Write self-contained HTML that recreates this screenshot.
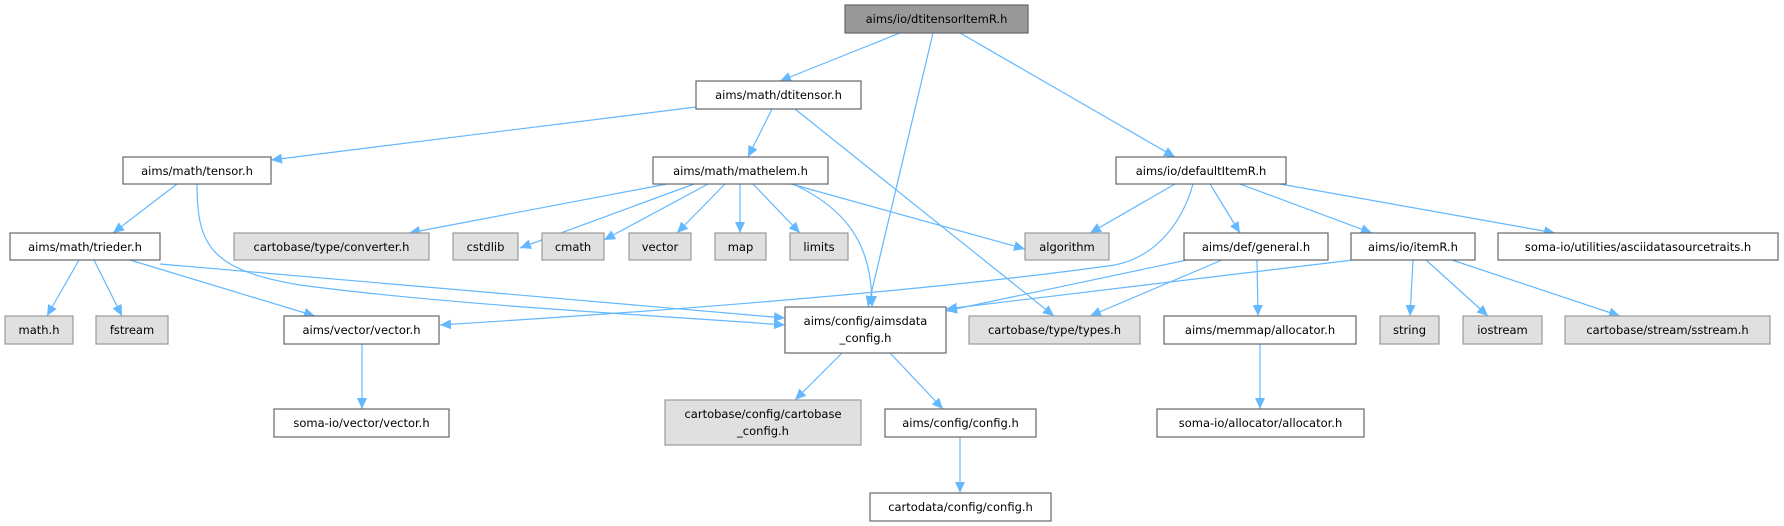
<!DOCTYPE html>
<html><head><meta charset="utf-8"><style>
html,body{margin:0;padding:0;background:#fff;}
svg{display:block;}
text{font-family:"DejaVu Sans","Liberation Sans",sans-serif;font-size:11.5px;fill:#000;}
.n{fill:#fff;stroke:#666;stroke-width:1.2;}
.g{fill:#e0e0e0;stroke:#999;stroke-width:1.2;}
.r{fill:#999;stroke:#666;stroke-width:1.2;}
.e{fill:none;stroke:#63b8ff;stroke-width:1.2;}
</style></head><body>
<svg width="1784" height="526" viewBox="0 0 1784 526" xmlns="http://www.w3.org/2000/svg">
<defs><marker id="a" markerUnits="userSpaceOnUse" markerWidth="12" markerHeight="10" refX="11" refY="5" orient="auto"><path d="M0,0 L11,5 L0,10 z" fill="#63b8ff"/></marker></defs>
<g class="e" marker-end="url(#a)">
<path d="M900,33 L780,81"/>
<path d="M933,33 L868,307"/>
<path d="M960,33 L1175,157"/>
<path d="M696,107 L271,160"/>
<path d="M772,109 L748,157"/>
<path d="M795,109 L1054,316"/>
<path d="M177,184 L113,233"/>
<path d="M197,184 C197,245 210,270 300,285 C450,305 650,315 785,325"/>
<path d="M79,260 L47,316"/>
<path d="M94,260 L122,316"/>
<path d="M130,260 L315,316"/>
<path d="M160,264 L785,318"/>
<path d="M667,184 L409,233"/>
<path d="M694,184 L520,248"/>
<path d="M708,184 L604,240"/>
<path d="M725,184 L677,233"/>
<path d="M740,184 L740,233"/>
<path d="M753,184 L800,233"/>
<path d="M791,184 L1025,249"/>
<path d="M793,184 C860,215 872,260 872,307"/>
<path d="M1175,184 L1090,233"/>
<path d="M1193,184 C1180,230 1150,258 1115,265 C900,295 600,315 440,325"/>
<path d="M1210,184 L1240,233"/>
<path d="M1240,184 L1372,233"/>
<path d="M1280,184 L1555,233"/>
<path d="M1187,260 L946,311"/>
<path d="M1222,260 L1090,316"/>
<path d="M1257,260 L1258,316"/>
<path d="M1353,260 L946,309"/>
<path d="M1413,260 L1410,316"/>
<path d="M1426,260 L1488,316"/>
<path d="M1452,260 L1620,316"/>
<path d="M842,353 L795,400"/>
<path d="M890,353 L943,409"/>
<path d="M362,344 L362,409"/>
<path d="M960,437 L960,493"/>
<path d="M1260,344 L1260,409"/>
</g>
<g text-anchor="middle">
<rect class="r" x="845" y="5" width="183" height="28"/><text x="936.5" y="23">aims/io/dtitensorItemR.h</text>
<rect class="n" x="696" y="81" width="165" height="28"/><text x="778.5" y="99">aims/math/dtitensor.h</text>
<rect class="n" x="123" y="157" width="148" height="27"/><text x="197" y="175">aims/math/tensor.h</text>
<rect class="n" x="653" y="157" width="175" height="27"/><text x="740.5" y="175">aims/math/mathelem.h</text>
<rect class="n" x="1116" y="157" width="170" height="27"/><text x="1201" y="175">aims/io/defaultItemR.h</text>
<rect class="n" x="10" y="233" width="150" height="27"/><text x="85" y="251">aims/math/trieder.h</text>
<rect class="g" x="234" y="233" width="195" height="27"/><text x="331.5" y="251">cartobase/type/converter.h</text>
<rect class="g" x="453" y="233" width="65" height="27"/><text x="485.5" y="251">cstdlib</text>
<rect class="g" x="542" y="233" width="62" height="27"/><text x="573" y="251">cmath</text>
<rect class="g" x="629" y="233" width="62" height="27"/><text x="660" y="251">vector</text>
<rect class="g" x="715" y="233" width="51" height="27"/><text x="740.5" y="251">map</text>
<rect class="g" x="790" y="233" width="58" height="27"/><text x="819" y="251">limits</text>
<rect class="g" x="1025" y="233" width="84" height="27"/><text x="1067" y="251">algorithm</text>
<rect class="n" x="1184" y="233" width="144" height="27"/><text x="1256" y="251">aims/def/general.h</text>
<rect class="n" x="1351" y="233" width="124" height="27"/><text x="1413" y="251">aims/io/itemR.h</text>
<rect class="n" x="1498" y="233" width="280" height="27"/><text x="1638" y="251">soma-io/utilities/asciidatasourcetraits.h</text>
<rect class="g" x="5" y="316" width="68" height="28"/><text x="39" y="334">math.h</text>
<rect class="g" x="96" y="316" width="72" height="28"/><text x="132" y="334">fstream</text>
<rect class="n" x="284" y="316" width="155" height="28"/><text x="361.5" y="334">aims/vector/vector.h</text>
<rect class="n" x="785" y="307" width="161" height="46"/><text x="865.5" y="325">aims/config/aimsdata</text><text x="865.5" y="342">_config.h</text>
<rect class="g" x="969" y="316" width="171" height="28"/><text x="1054.5" y="334">cartobase/type/types.h</text>
<rect class="n" x="1164" y="316" width="192" height="28"/><text x="1260" y="334">aims/memmap/allocator.h</text>
<rect class="g" x="1380" y="316" width="59" height="28"/><text x="1409.5" y="334">string</text>
<rect class="g" x="1463" y="316" width="79" height="28"/><text x="1502.5" y="334">iostream</text>
<rect class="g" x="1565" y="316" width="205" height="28"/><text x="1667.5" y="334">cartobase/stream/sstream.h</text>
<rect class="n" x="274" y="409" width="175" height="28"/><text x="361.5" y="427">soma-io/vector/vector.h</text>
<rect class="g" x="665" y="400" width="196" height="45"/><text x="763" y="418">cartobase/config/cartobase</text><text x="763" y="435">_config.h</text>
<rect class="n" x="885" y="409" width="151" height="28"/><text x="960.5" y="427">aims/config/config.h</text>
<rect class="n" x="1157" y="409" width="207" height="28"/><text x="1260.5" y="427">soma-io/allocator/allocator.h</text>
<rect class="n" x="870" y="493" width="181" height="28"/><text x="960.5" y="511">cartodata/config/config.h</text>
</g>
</svg>
</body></html>
